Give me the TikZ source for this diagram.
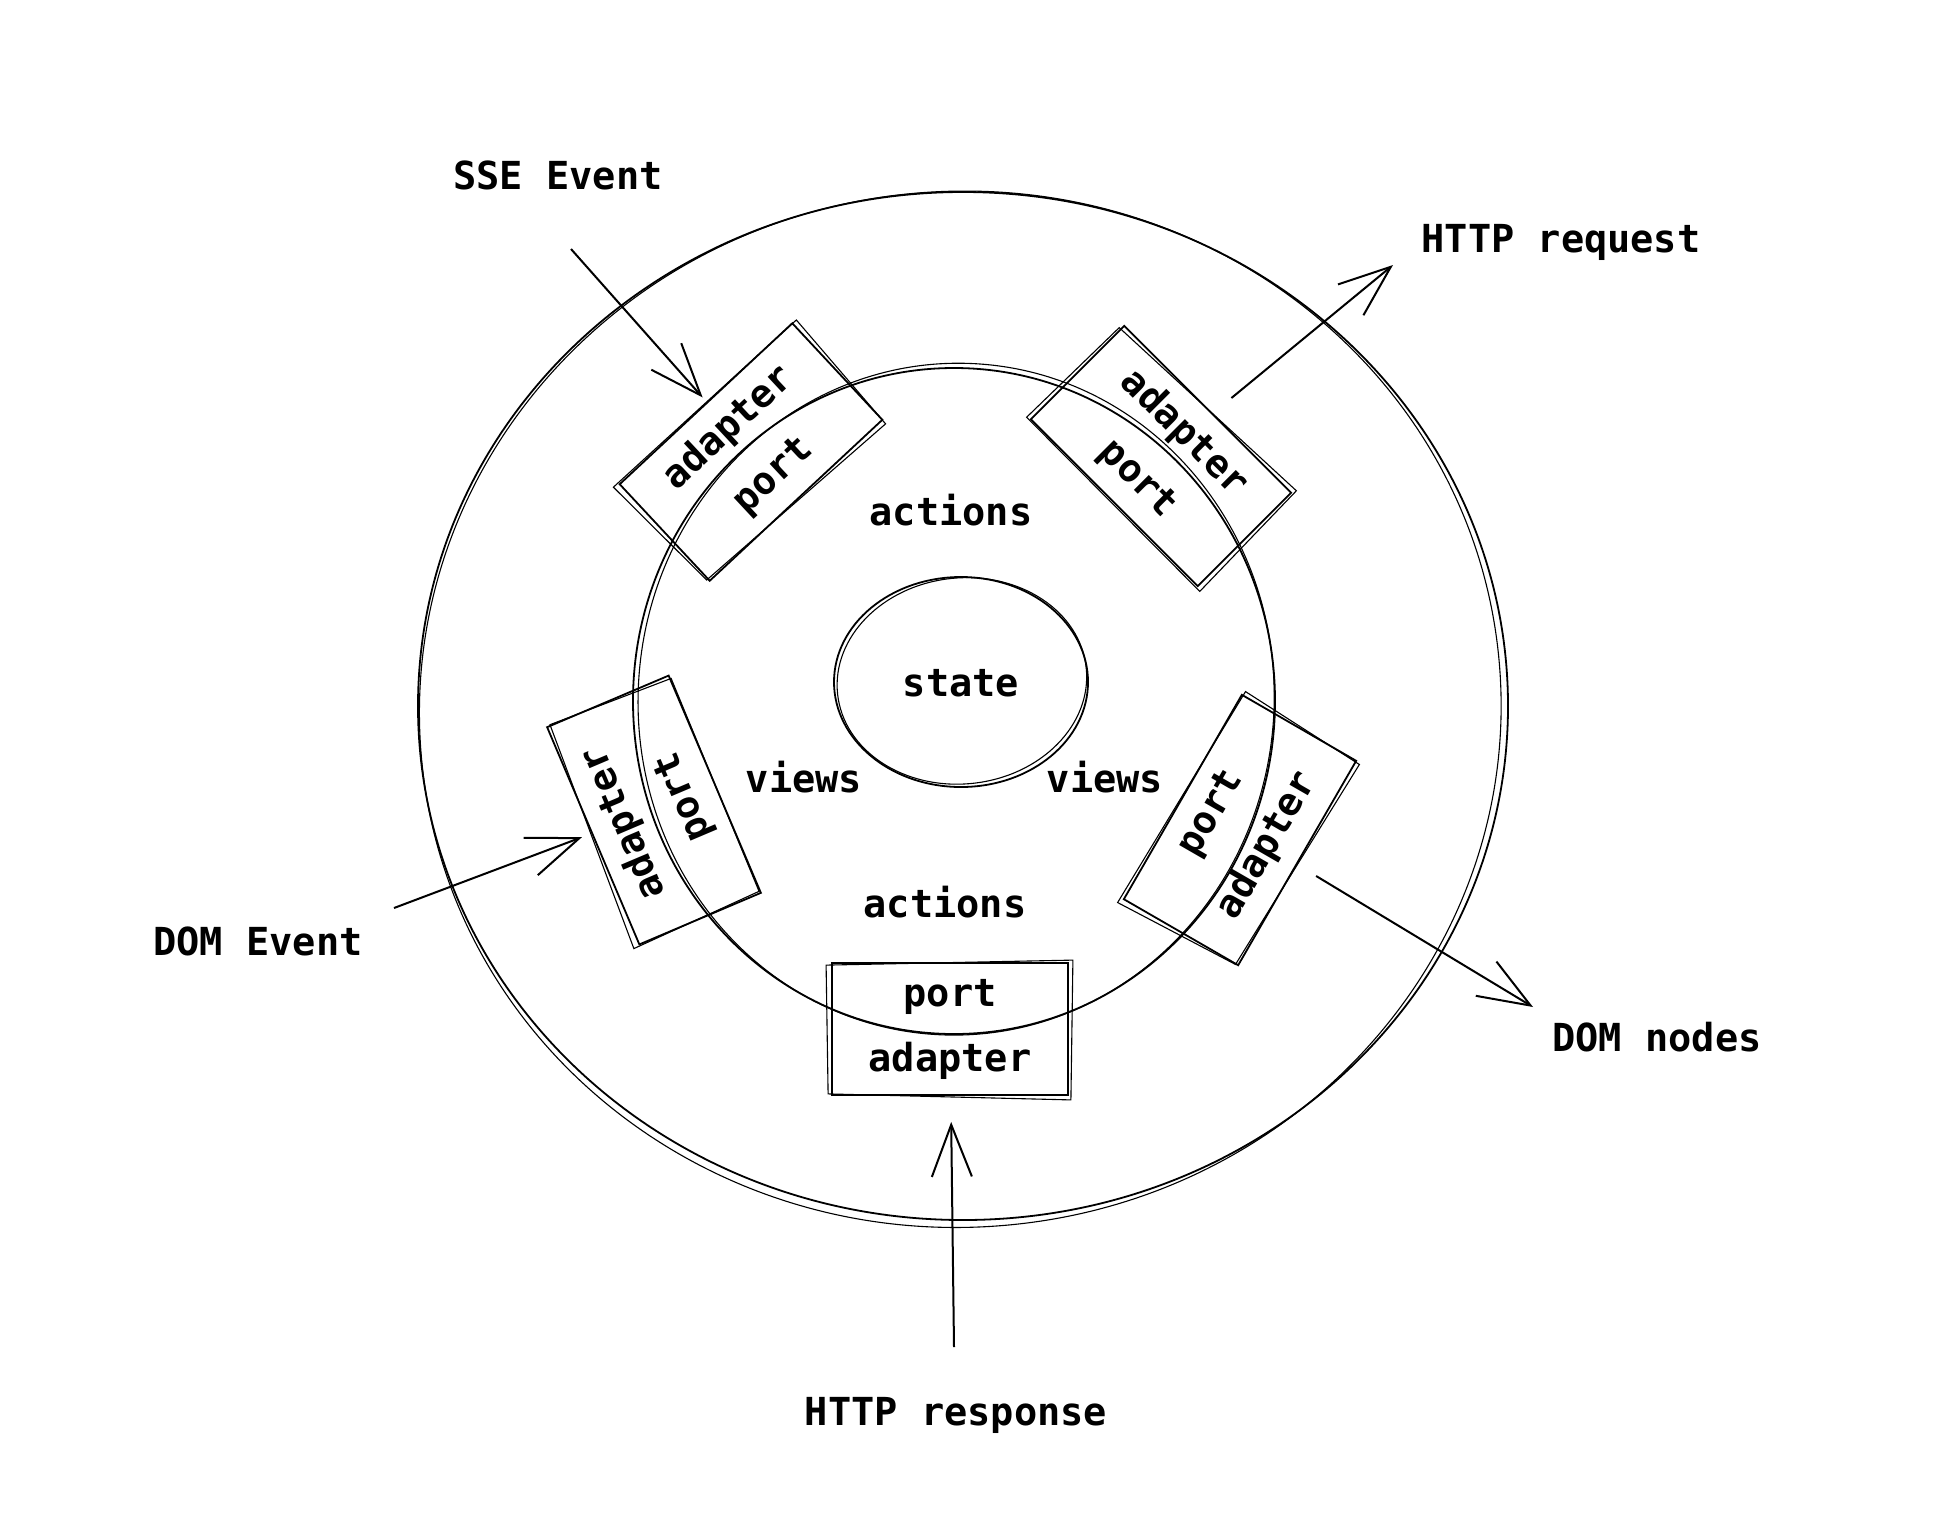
\documentclass[tikz,border=0pt]{standalone}
\usepackage{fontspec}
\setmonofont{DejaVu Sans Mono}
\usetikzlibrary{arrows.meta, calc, shapes.geometric}
\tikzset{
  sketch/.style={draw=black, line width=0.9pt},
  sketchb/.style={draw=black, line width=0.55pt},
  lbl/.style={font=\fontsize{19.3}{23}\selectfont\ttfamily\bfseries, inner sep=0pt,
              text height=1.2em, text depth=0pt},
  portbox/.style={sketch, align=center, inner sep=0pt,
              minimum width=118pt, minimum height=66pt,
              font=\fontsize{19.3}{32.5}\selectfont\ttfamily\bfseries},
  flow/.style={-{Straight Barb[length=26pt, width=20pt]}, line width=1pt},
}
% second, lighter stroke round a box, for the sketched look
\newcommand{\roughbox}[1]{%
  \draw[sketchb] ($(#1.north west)+(-5,3)$) -- ($(#1.north east)+(4,-2)$)
    -- ($(#1.south east)+(2,4)$) -- ($(#1.south west)+(-3,-2)$) -- cycle;}

\begin{document}
\begin{tikzpicture}[x=0.5pt, y=-0.5pt]
  \useasboundingbox (0,0) rectangle (1954,1522);
  % rings
  \draw[sketch] (963,706) ellipse [x radius=545, y radius=514];
  \draw[sketchb, rotate around={5:(963,706)}] (960,709) ellipse [x radius=541, y radius=518];
  \draw[sketch] (954,701) ellipse [x radius=321, y radius=333];
  \draw[sketchb, rotate around={-4:(954,701)}] (956,699) ellipse [x radius=318, y radius=336];
  \node[sketch, lbl, text height=1.4em, ellipse, minimum width=127pt,
    minimum height=105pt] (state) at (961,682) {state};
  \draw[sketchb, rotate around={6:(961,682)}] (962,681) ellipse [x radius=125, y radius=103];

  % layer labels
  \node[lbl] (actTop) at (951,513) {actions};
  \node[lbl] (actBot) at (945,905) {actions};
  \node[lbl] (viewsL) at (804,780) {views};
  \node[lbl] (viewsR) at (1105,780) {views};

  % ports and adapters
  \node[portbox, rotate=43] (adSSE) at (751,452) {adapter\\port};
  \node[portbox, rotate=-45] (adReq) at (1161,456) {adapter\\port};
  \node[portbox, rotate=113] (adDom) at (654,810) {adapter\\port};
  \node[portbox, rotate=60] (adNodes) at (1240,830) {port\\adapter};
  \node[portbox] (adResp) at (950,1029) {port\\adapter};
  \roughbox{adSSE}
  \roughbox{adReq}
  \roughbox{adDom}
  \roughbox{adNodes}
  \roughbox{adResp}

  % outside world
  \node[lbl] (sse) at (558,177) {SSE Event};
  \node[lbl] (req) at (1561,240) {HTTP request};
  \node[lbl] (domEv) at (258,943) {DOM Event};
  \node[lbl] (domNd) at (1657,1039) {DOM nodes};
  \node[lbl] (resp) at (956,1413) {HTTP response};

  \coordinate (sseTail) at (571,249);
  \coordinate (reqTip) at (1393,265);
  \coordinate (domTail) at (394,908);
  \coordinate (ndTip) at (1533,1007);
  \coordinate (respTail) at (954,1347);
  \draw[flow, shorten >=3pt] (sseTail) -- (adSSE);
  \draw[flow, shorten <=12pt] (adReq) -- (reqTip);
  \draw[flow, shorten >=5pt] (domTail) -- (adDom);
  \draw[flow, shorten <=11pt] (adNodes) -- (ndTip);
  \draw[flow, shorten >=13pt] (respTail) -- (adResp);
\end{tikzpicture}
\end{document}
